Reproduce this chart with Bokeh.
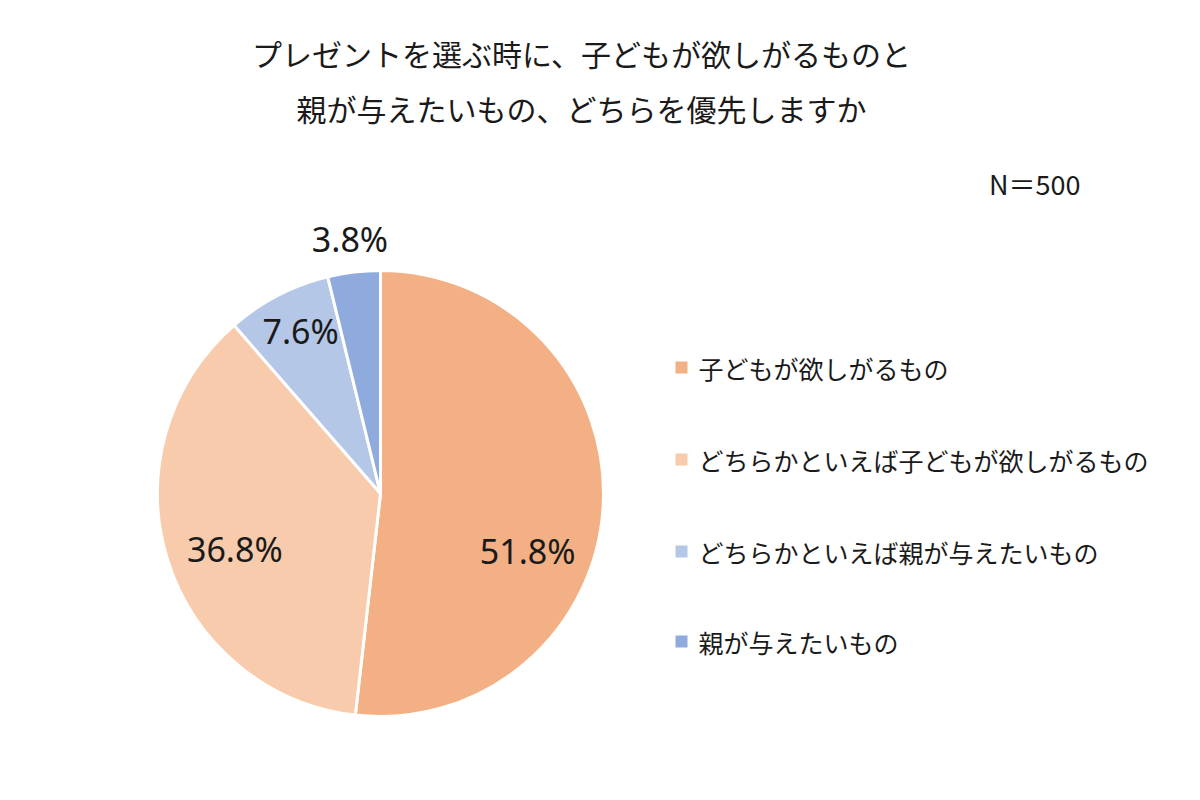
import math
from bokeh.plotting import figure
from bokeh.models import Range1d, ColumnDataSource
from bokeh.core.properties import value
from bokeh.embed import file_html
from bokeh.resources import INLINE

title_lines = ["プレゼントを選ぶ時に、子どもが欲しがるものと", "親が与えたいもの、どちらを優先しますか"]
categories = ["子どもが欲しがるもの", "どちらかといえば子どもが欲しがるもの", "どちらかといえば親が与えたいもの", "親が与えたいもの"]
shares = [51.8, 36.8, 7.6, 3.8]
colors = ["#F2B084", "#F7CBAC", "#B4C7E7", "#8FAADC"]
n_label = "N＝500"

W, H = 1200, 800
p = figure(width=W, height=H, x_range=Range1d(0, W), y_range=Range1d(0, H),
           output_backend="svg", toolbar_location=None, min_border=0)
p.axis.visible = False
p.grid.visible = False
p.outline_line_color = None
p.background_fill_color = "white"
p.border_fill_color = "white"

cx, cy, r = 380, 800 - 493, 223
total = sum(shares)
starts, ends = [], []
acc = 0.0
for s in shares:
    a0 = math.pi / 2 - 2 * math.pi * acc / total
    acc += s
    a1 = math.pi / 2 - 2 * math.pi * acc / total
    starts.append(a0)
    ends.append(a1)

src = ColumnDataSource(dict(start=starts, end=ends, color=colors))
p.wedge(x=cx, y=cy, radius=r, start_angle="start", end_angle="end", direction="clock",
        fill_color="color", line_color="white", line_width=3, source=src)

# value labels placed from each slice's mid-angle, with small pixel nudges
label_radius = [0.67, 0.67, 0.78, 1.15]
label_dx = [-2, -3, 0, 0]
label_dy = [-49, -11, 8, 0]
lx, ly, lt = [], [], []
for s, a0, a1, rf, dx, dy in zip(shares, starts, ends, label_radius, label_dx, label_dy):
    m = (a0 + a1) / 2
    lx.append(cx + rf * r * math.cos(m) + dx)
    ly.append(cy + rf * r * math.sin(m) + dy)
    lt.append(f"{s:.1f}%")
p.text(x=lx, y=ly, text=lt, text_align="center", text_baseline="middle",
       text_font=value("Noto Sans"), text_font_size="34px", text_color="#1a1a1a")

# title
p.text(x=[581, 581], y=[800 - 52, 800 - 107], text=title_lines, text_align="center",
       text_baseline="middle", text_font=value("Noto Sans CJK JP"), text_font_size="30px",
       text_color="#1a1a1a")

p.text(x=[1080], y=[800 - 183], text=[n_label], text_align="right", text_baseline="middle",
       text_font=value("Noto Sans CJK JP"), text_font_size="27px", text_color="#1a1a1a")

# legend
ly_leg = [800 - 367, 800 - 459, 800 - 551, 800 - 641]
p.rect(x=[681] * 4, y=ly_leg, width=12, height=12, fill_color=colors, line_color=None)
p.text(x=[698] * 4, y=ly_leg, text=categories, text_align="left", text_baseline="middle",
       text_font=value("Noto Sans CJK JP"), text_font_size="25px", text_color="#1a1a1a")

open("out.html", "w").write(file_html(p, INLINE))
